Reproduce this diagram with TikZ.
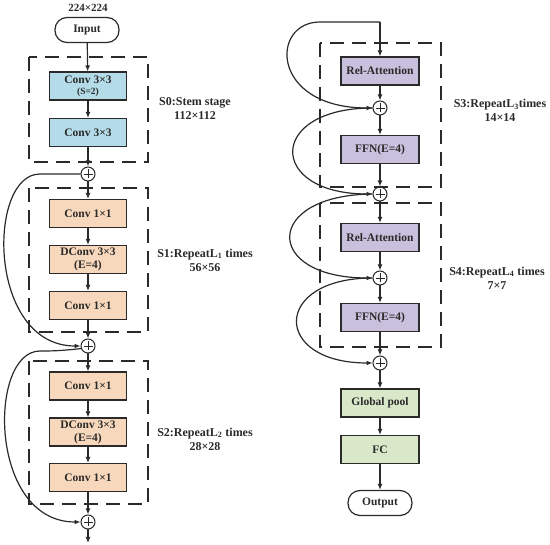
\documentclass[tikz,border=0pt]{standalone}
\usepackage{fontspec}
\setmainfont{Liberation Serif}
\usetikzlibrary{arrows.meta}
\definecolor{lc}{HTML}{2A2A2A}
\definecolor{cblue}{HTML}{B4DCE8}
\definecolor{corange}{HTML}{F8D8BC}
\definecolor{cpurple}{HTML}{C8C0DC}
\definecolor{cgreen}{HTML}{D8E8C8}
\begin{document}
\begin{tikzpicture}[x=1pt,y=-1pt,
  every node/.style={font=\bfseries\fontsize{11.5}{13}\selectfont, text=lc},
  blk/.style={draw=lc, line width=1.2pt, minimum width=77pt, minimum height=28pt, inner sep=1pt, align=center},
  bluebox/.style={blk, fill=cblue},
  orbox/.style={blk, fill=corange},
  pubox/.style={blk, fill=cpurple, minimum width=78pt},
  grbox/.style={blk, fill=cgreen, minimum width=78pt},
  term/.style={draw=lc, line width=1.2pt, rounded corners=12pt, minimum width=64pt, minimum height=25pt, inner sep=1pt},
  plus/.style={circle, draw=lc, line width=1pt, minimum size=14pt, inner sep=0pt,
    path picture={\draw[lc, line width=0.8pt] ([xshift=-4.5pt]path picture bounding box.center) -- ([xshift=4.5pt]path picture bounding box.center);
                  \draw[lc, line width=0.8pt] ([yshift=-4.5pt]path picture bounding box.center) -- ([yshift=4.5pt]path picture bounding box.center);}},
  arr/.style={draw=lc, line width=1.2pt, -{Latex[length=6pt,width=5pt]}},
  stage/.style={draw=lc, line width=1.3pt, dash pattern=on 14pt off 8pt},
  lab/.style={align=center, font=\bfseries\fontsize{12}{14}\selectfont}
]
\useasboundingbox (0,0) rectangle (550,545);

% ---------- left column ----------
\node[font=\bfseries\fontsize{11}{12}\selectfont] (dim) at (88,8) {224×224};
\node[term] (input) at (87,30) {Input};
\draw[stage] (29,57) rectangle (148,162);
\node[bluebox] (c1) at (88,86) {Conv 3×3\\[-2pt]{\fontsize{9.5}{10}\selectfont (S=2)}};
\node[bluebox] (c2) at (88,132.5) {Conv 3×3};
\node[plus] (p1) at (88,174) {};
\node[lab] (s0) at (195,109) {S0:Stem stage\\112×112};

\draw[stage] (29,188) rectangle (148,332);
\node[orbox] (a1) at (88,213.5) {Conv 1×1};
\node[orbox] (a2) at (88,259.5) {DConv 3×3\\(E=4)};
\node[orbox] (a3) at (88,305.5) {Conv 1×1};
\node[plus] (p2) at (88,346) {};
\node[lab] (s1) at (205,260) {S1:RepeatL\textsubscript{1} times\\56×56};

\draw[stage] (29,361) rectangle (148,504);
\node[orbox] (b1) at (88,386) {Conv 1×1};
\node[orbox] (b2) at (88,432) {DConv 3×3\\(E=4)};
\node[orbox] (b3) at (88,477.5) {Conv 1×1};
\node[plus] (p3) at (88,522) {};
\coordinate (lend) at (88,543);
\node[lab] (s2) at (205,439) {S2:RepeatL\textsubscript{2} times\\28×28};

\draw[arr] (input) -- (c1);
\draw[arr] (c1) -- (c2);
\draw[arr] (c2) -- (p1);
\draw[arr] (p1) -- (a1);
\draw[arr] (a1) -- (a2);
\draw[arr] (a2) -- (a3);
\draw[arr] (a3) -- (p2);
\draw[arr] (p2) -- (b1);
\draw[arr] (b1) -- (b2);
\draw[arr] (b2) -- (b3);
\draw[arr] (b3) -- (p3);
\draw[arr] (p3) -- (lend);

\draw[arr] (p1.west) -- (40,174) .. controls (-13,174) and (-13,346) .. (p2.west);
\draw[arr] (p2.200) .. controls (60,351) and (50,351) .. (40,351) .. controls (-12,351) and (-12,522) .. (p3.west);

% ---------- right column ----------
\coordinate (rtop) at (380,22);
\draw[stage] (320,43) rectangle (441,187);
\node[pubox] (r1) at (380,71) {Rel-Attention};
\node[plus] (q1) at (380,108) {};
\node[pubox] (f1) at (380,149.5) {FFN(E=4)};
\node[plus] (q2) at (380,194) {};
\node[lab] (s3) at (500,110.5) {S3:RepeatL\textsubscript{3}times\\14×14};

\draw[stage] (320,203) rectangle (441,347);
\node[pubox] (r2) at (380,237.5) {Rel-Attention};
\node[plus] (q3) at (380,278) {};
\node[pubox] (f2) at (380,317.5) {FFN(E=4)};
\node[plus] (q4) at (380,363) {};
\node[lab] (s4) at (497,278) {S4:RepeatL\textsubscript{4} times\\7×7};

\node[grbox] (gp) at (380,403) {Global pool};
\node[grbox] (fc) at (380,449.5) {FC};
\node[term] (output) at (380,503) {Output};

\draw[arr] (rtop) -- (r1);
\draw[arr] (r1) -- (q1);
\draw[arr] (q1) -- (f1);
\draw[arr] (f1) -- (q2);
\draw[arr] (q2) -- (r2);
\draw[arr] (r2) -- (q3);
\draw[arr] (q3) -- (f2);
\draw[arr] (f2) -- (q4);
\draw[arr] (q4) -- (gp);
\draw[arr] (gp) -- (fc);
\draw[arr] (fc) -- (output);

\draw[arr] (rtop) -- (320,22) .. controls (270,22) and (270,108) .. (q1.west);
\draw[arr] (q1.west) .. controls (267,108) and (267,194) .. (q2.west);
\draw[arr] (q2.west) .. controls (263,195) and (263,278) .. (q3.west);
\draw[arr] (q3.west) .. controls (272,278) and (272,363) .. (q4.west);
\end{tikzpicture}
\end{document}
